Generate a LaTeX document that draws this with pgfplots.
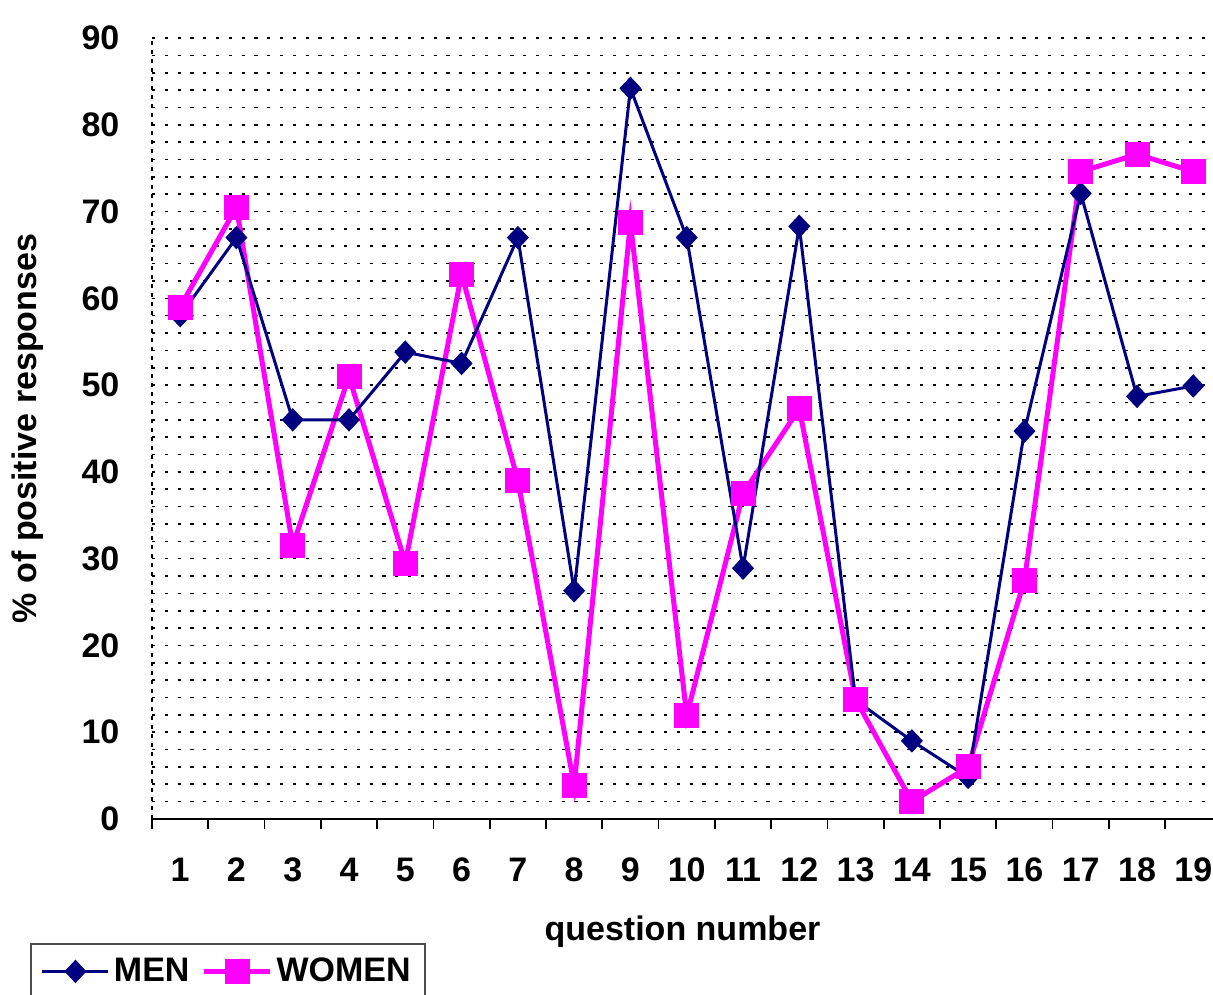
\documentclass[border=0pt]{standalone}
\usepackage{fontspec}
\setmainfont{Liberation Sans}
\usepackage{pgfplots}
\pgfplotsset{compat=1.18}
\definecolor{menblue}{HTML}{000080}
\definecolor{womenpink}{HTML}{FF00FF}
\newcommand{\bigbf}{\bfseries\fontsize{17}{19}\selectfont}
\begin{document}
\begin{tikzpicture}
\useasboundingbox (-76pt,-87.5pt) rectangle (530.5pt,409.5pt);
\begin{axis}[
  at={(0pt,0pt)}, anchor=south west,
  scale only axis, width=530.5pt, height=390.5pt,
  xmin=0.5, xmax=19.35, ymin=0, ymax=90,
  axis x line=bottom, axis y line=left, axis line style={-},
  x axis line style={line width=1pt},
  y axis line style={line width=0.8pt, dash pattern=on 2pt off 2.5pt},
  xtick={0.5,1.5,...,18.5}, xticklabels={},
  tick align=outside, major tick length=5pt,
  major x tick style={black, line width=0.9pt},
  extra x ticks={1,...,19},
  extra x tick style={major tick length=0pt, major x tick style={draw=none}},
  ytick={0,10,...,90}, minor ytick={2,4,...,88},
  major y tick style={draw=none}, minor y tick style={draw=none},
  ymajorgrids, yminorgrids,
  major grid style={black, line width=0.8pt, dash pattern=on 1.6pt off 4.8pt},
  minor grid style={black, line width=0.8pt, dash pattern=on 1.6pt off 4.8pt},
  /pgf/number format/assume math mode=true,
  ticklabel style={font=\bigbf},
  xticklabel style={anchor=center, yshift=-25.5pt},
  yticklabel style={anchor=east, xshift=-7.8pt},
  xlabel={question number},
  xlabel style={at={(axis description cs:0.5,-0.1447)}, anchor=center, font=\bigbf},
  ylabel={\% of positive responses},
  ylabel style={at={(axis description cs:-0.117,0.5)}, anchor=center, font=\bigbf},
  legend columns=2,
  legend style={at={(axis description cs:-0.115,-0.1588)}, anchor=north west,
    draw=black!70, line width=1pt, font=\bigbf, inner xsep=5pt, inner ysep=5pt,
    /tikz/every even column/.append style={column sep=4pt},
    cells={anchor=west}},
  legend image code/.code={\draw[sharp plot, mark repeat=2, mark phase=2] plot coordinates {(0pt,0pt) (16.5pt,0pt) (33pt,0pt)};},
]
% women line (under men)
\addplot[forget plot, color=womenpink, line width=2.5pt, no marks] coordinates {
(1,59) (2,70.5) (3,31.5) (4,51) (5,29.5) (6,62.8) (7,39) (8,3.9) (9,68.7) (10,11.9)
(11,37.5) (12,47.3) (13,13.8) (14,2) (15,6) (16,27.5) (17,74.6) (18,76.6) (19,74.6)};
% men
\addplot[color=menblue, line width=1.5pt, mark=diamond*, mark size=5.5pt, mark options={solid, xscale=1.25, line width=0.5pt}] coordinates {
(1,58) (2,67) (3,46) (4,46) (5,53.8) (6,52.5) (7,67) (8,26.3) (9,84.2) (10,67)
(11,28.9) (12,68.3) (13,13.7) (14,9) (15,4.8) (16,44.7) (17,72.1) (18,48.7) (19,49.9)};
\addlegendentry{MEN}
% women marks on top
\addplot[color=womenpink, line width=2.5pt, only marks, mark=square*, mark size=6pt, mark options={solid, line width=0.5pt}] coordinates {
(1,59) (2,70.5) (3,31.5) (4,51) (5,29.5) (6,62.8) (7,39) (8,3.9) (9,68.7) (10,11.9)
(11,37.5) (12,47.3) (13,13.8) (14,2) (15,6) (16,27.5) (17,74.6) (18,76.6) (19,74.6)};
\addlegendentry{WOMEN}
\end{axis}
\end{tikzpicture}
\end{document}
